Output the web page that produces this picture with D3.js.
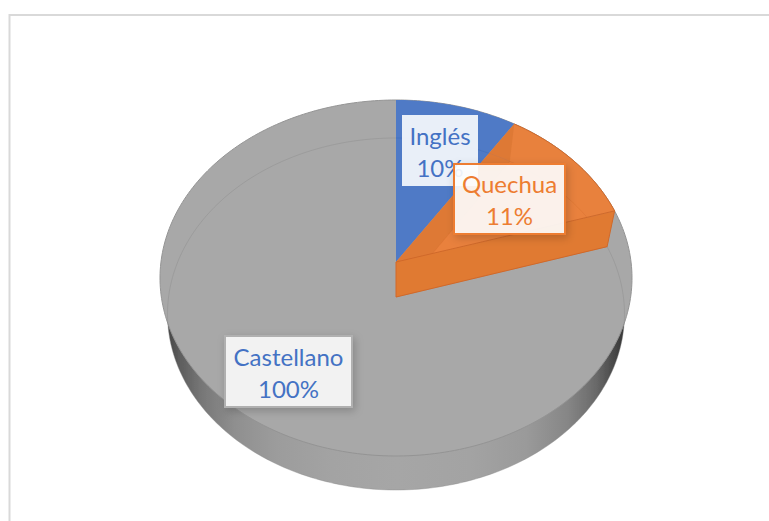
<!DOCTYPE html>
<html><head><meta charset="utf-8">
<script src="https://cdnjs.cloudflare.com/ajax/libs/d3/7.8.5/d3.min.js"></script>
<style>html,body{margin:0;padding:0;background:#fff}svg{display:block}text{font-family:Lato,"Open Sans",sans-serif}</style>
</head><body><svg id="c" width="769" height="521"></svg>
<script>
const categories = ["Inglés", "Quechua", "Castellano"];
const labelValues = [10, 11, 100];
// slice shares as drawn in the picture (the labels do not sum to 100)
const sliceShares = [9.1, 11.1, 79.8];
const faceColors = ["#4f7ac6", "#e8813d", "#a8a8a8"];
const textColors = ["#4472c4", "#ed7d31", "#4472c4"];

const W = 769, H = 521, CX = 396;
const svg = d3.select("#c").attr("viewBox", [0, 0, W, H]);
const defs = svg.append("defs");

// perspective projection of a unit circle
function projector(yBack, yCentre, yFront, halfWidth) {
  const c = (yBack + yFront - 2 * yCentre) / (yFront - yBack);
  const k = (yBack * (1 + c) - yCentre);
  const A = halfWidth * Math.sqrt(1 - c * c);
  return t => {
    const u = Math.sin(t), v = Math.cos(t), d = 1 + c * v;
    return [CX + A * u / d, (k * v + yCentre) / d];
  };
}
const topP = projector(100, 262, 456, 236);
const baseP = projector(138, 297, 490, 228.5);
const topC = [CX, 262], baseC = [CX, 297];

const line = d3.line();
const rim = (P, a0, a1) => {
  const n = Math.max(2, Math.ceil((a1 - a0) / 0.02));
  return d3.range(n + 1).map(i => P(a0 + (a1 - a0) * i / n));
};
const pie = d3.pie().sort(null)(sliceShares);

// side wall gradient
const g = defs.append("linearGradient").attr("id", "wall")
  .attr("gradientUnits", "userSpaceOnUse").attr("x1", 165).attr("x2", 628).attr("y1", 0).attr("y2", 0);
[[0, "#404040"], [.03, "#5c5c5c"], [.08, "#777"], [.15, "#8f8f8f"], [.24, "#9c9c9c"], [.36, "#a3a3a3"], [.5, "#a6a6a6"], [.66, "#a3a3a3"], [.78, "#9a9a9a"], [.87, "#868686"], [.93, "#6a6a6a"], [.97, "#484848"], [1, "#2e2e2e"]]
  .forEach(([o, c]) => g.append("stop").attr("offset", o).attr("stop-color", c));

const shadow = (id, op, dev) => defs.append("filter").attr("id", id).attr("x", "-25%").attr("y", "-25%").attr("width", "150%").attr("height", "150%")
  .append("feDropShadow").attr("dx", 2).attr("dy", 3).attr("stdDeviation", dev).attr("flood-color", "#000").attr("flood-opacity", op);
shadow("sh1", .2, 4);

defs.append("filter").attr("id", "soft").append("feGaussianBlur").attr("stdDeviation", .5);

// card outline
svg.append("path").attr("d", line([[9.5, H], [9.5, 15], [W, 15]]))
  .attr("fill", "none").attr("stroke", "#d9d9d9").attr("stroke-width", 2);

const pieG = svg.append("g").attr("filter", "url(#soft)");

// base and wall
pieG.append("path").attr("d", line(rim(baseP, 0, 2 * Math.PI)) + "Z").attr("fill", "url(#wall)");
// top face, whole disc then the slices, gray first
pieG.append("path").attr("d", line(rim(topP, 0, 2 * Math.PI)) + "Z").attr("fill", faceColors[2]).attr("stroke", "#949494").attr("stroke-width", 1);

[2, 0, 1].forEach(i => {
  const s = pie[i];
  if (i !== 2) {
    pieG.append("path").attr("d", line([topC, ...rim(topP, s.startAngle, s.endAngle)]) + "Z")
      .attr("fill", faceColors[i]);
  }
});

// see-through base ellipse on the gray
pieG.append("path").attr("d", line(rim(baseP, pie[2].startAngle, pie[2].endAngle)))
  .attr("fill", "none").attr("stroke", "#8a8a8a").attr("stroke-opacity", .4).attr("stroke-width", 1);

// blue inner line
const blue = pie[0];
pieG.append("path").attr("d", line(rim(baseP, blue.startAngle, blue.endAngle)))
  .attr("fill", "none").attr("stroke", "#3a66b5").attr("stroke-opacity", .4);

// orange solid: side faces seen through the top
const or = pie[1], a0 = or.startAngle, a1 = or.endAngle;
pieG.append("path")
  .attr("d", line([topC, topP(a0), baseP(a0), baseC]) + "Z")
  .attr("fill", "#dc7835").attr("fill-opacity", .85);
pieG.append("path")
  .attr("d", line([baseC, ...rim(baseP, a0, a1)]) + "Z")
  .attr("fill", "#e9823e").attr("fill-opacity", .6).attr("stroke", "#d0692a").attr("stroke-opacity", .3);
pieG.append("path")
  .attr("d", line([topC, topP(a1), baseP(a1), baseC]) + "Z")
  .attr("fill", "#e07a33").attr("stroke", "#d0692a").attr("stroke-width", 1);
pieG.append("path")
  .attr("d", line(rim(topP, a0, a1)))
  .attr("fill", "none").attr("stroke", "#d0692a").attr("stroke-width", 1);

// labels
const boxes = [
  {x: 402, y: 115, w: 76, h: 71, fill: "#ffffff", op: .88, stroke: "none", base: [145, 177]},
  {x: 454, y: 164, w: 111, h: 70, fill: "#ffffff", op: .89, stroke: "#ed7d31", base: [193, 225]},
  {x: 225, y: 336, w: 127, h: 71, fill: "#f2f2f2", op: 1, stroke: "#b0b0b0", base: [366, 398]}
];
[2, 0, 1].forEach(i => {
  const b = boxes[i];
  const gg = svg.append("g");
  gg.append("rect").attr("x", b.x).attr("y", b.y).attr("width", b.w).attr("height", b.h)
    .attr("fill", b.fill).attr("fill-opacity", b.op)
    .attr("stroke", b.stroke).attr("stroke-width", 2)
    .attr("filter", i === 0 ? null : "url(#sh1)");
  [categories[i], labelValues[i] + "%"].forEach((t, j) => {
    gg.append("text").attr("x", b.x + b.w / 2).attr("y", b.base[j])
      .attr("text-anchor", "middle").attr("font-size", 24)
      .attr("fill", textColors[i]).text(t);
  });
});
</script></body></html>
